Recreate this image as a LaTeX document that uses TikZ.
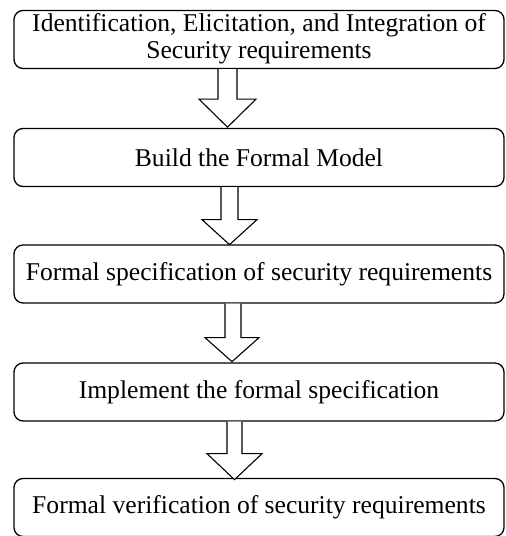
\documentclass[tikz,border=0pt]{standalone}
\usepackage{fontspec}
\setmainfont{Liberation Serif}
\begin{document}
\begin{tikzpicture}[x=1pt,y=-1pt,
  stepbox/.style={draw, rounded corners=9pt, line width=1.3pt, minimum width=490pt, minimum height=58pt, inner sep=0pt, align=center, font=\fontsize{25.6}{27.5}\selectfont},
  blockarrow/.style={draw, line width=1.1pt, fill=white, line join=miter}]
\useasboundingbox (0,0) rectangle (506,536);
\node[stepbox] (b1) at (259,39.5) {\raisebox{-2pt}{\begin{tabular}{@{}c@{}}Identification, Elicitation, and Integration of\\[-0.5pt]Security requirements\end{tabular}}};
\node[stepbox] (b2) at (259,157.5) {Build the Formal Model};
\node[stepbox] (b3) at (259,274) {Formal specification of security requirements};
\node[stepbox] (b4) at (259,392) {\raisebox{5pt}{Implement the formal specification}};
\node[stepbox] (b5) at (259,507.5) {Formal verification of security requirements};
\draw[blockarrow] ([xshift=-41pt]b1.south) -- ++(0,30) -- ++(-19,0) -- ++(28.5,28) -- ++(28.5,-28) -- ++(-19,0) -- ++(0,-30);
\draw[blockarrow] ([xshift=-38pt]b2.south) -- ++(0,32.5) -- ++(-19,0) -- ++(27.5,25) -- ++(27.5,-25) -- ++(-19,0) -- ++(0,-32.5);
\draw[blockarrow] ([xshift=-34pt]b3.south) -- ++(0,34) -- ++(-20,0) -- ++(27,24) -- ++(27,-24) -- ++(-18,0) -- ++(0,-34);
\draw[blockarrow] ([xshift=-32pt]b4.south) -- ++(0,32) -- ++(-20,0) -- ++(27.5,26) -- ++(27.5,-26) -- ++(-20,0) -- ++(0,-32);
\end{tikzpicture}
\end{document}
